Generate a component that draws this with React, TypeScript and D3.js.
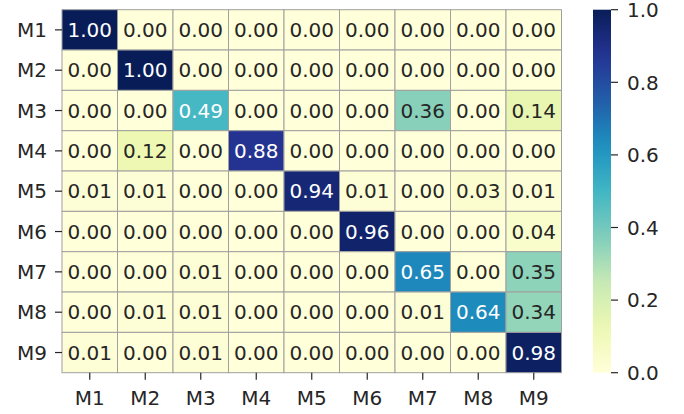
import React from "react";
import * as d3 from "d3";

const labels = ["M1", "M2", "M3", "M4", "M5", "M6", "M7", "M8", "M9"];
const row1 = [1.0, 0.0, 0.0, 0.0, 0.0, 0.0, 0.0, 0.0, 0.0];
const row2 = [0.0, 1.0, 0.0, 0.0, 0.0, 0.0, 0.0, 0.0, 0.0];
const row3 = [0.0, 0.0, 0.49, 0.0, 0.0, 0.0, 0.36, 0.0, 0.14];
const row4 = [0.0, 0.12, 0.0, 0.88, 0.0, 0.0, 0.0, 0.0, 0.0];
const row5 = [0.01, 0.01, 0.0, 0.0, 0.94, 0.01, 0.0, 0.03, 0.01];
const row6 = [0.0, 0.0, 0.0, 0.0, 0.0, 0.96, 0.0, 0.0, 0.04];
const row7 = [0.0, 0.0, 0.01, 0.0, 0.0, 0.0, 0.65, 0.0, 0.35];
const row8 = [0.0, 0.01, 0.01, 0.0, 0.0, 0.0, 0.01, 0.64, 0.34];
const row9 = [0.01, 0.0, 0.01, 0.0, 0.0, 0.0, 0.0, 0.0, 0.98];
const matrix = [row1, row2, row3, row4, row5, row6, row7, row8, row9];
const cbTicks = [0, 0.2, 0.4, 0.6, 0.8, 1.0];

const ylgnbu = ["#ffffd9", "#edf8b1", "#c7e9b4", "#7fcdbb", "#41b6c4", "#1d91c0", "#225ea8", "#253494", "#081d58"];

const W = 684, H = 414;
const left = 62, right = 561.5, top = 9.7, bottom = 372.7;
const cbLeft = 593, cbRight = 611;
const FONT = "DejaVu Sans, sans-serif";

function lum(c: string) {
  const rgb = d3.rgb(c);
  const f = (v: number) => {
    const s = v / 255;
    return s <= 0.03928 ? s / 12.92 : Math.pow((s + 0.055) / 1.055, 2.4);
  };
  return 0.2126 * f(rgb.r) + 0.7152 * f(rgb.g) + 0.0722 * f(rgb.b);
}

export default function App() {
  const color = d3
    .scaleLinear<string>()
    .domain(ylgnbu.map((_, i) => i / (ylgnbu.length - 1)))
    .range(ylgnbu)
    .interpolate(d3.interpolateRgb)
    .clamp(true);
  const x = d3.scaleBand<string>().domain(labels).range([left, right]);
  const y = d3.scaleBand<string>().domain(labels).range([top, bottom]);
  const cbY = d3.scaleLinear().domain([0, 1]).range([bottom, top]);
  const stops = d3.range(0, 1.0001, 0.05);

  return (
    <svg width={W} height={H} style={{ position: "absolute", left: 0, top: 0, background: "#fff" }} fontFamily={FONT}>
      <defs>
        <linearGradient id="cbg" x1="0" y1="1" x2="0" y2="0">
          {stops.map((s) => (
            <stop key={s} offset={s} stopColor={color(s)} />
          ))}
        </linearGradient>
      </defs>
      {matrix.map((row, i) =>
        row.map((v, j) => {
          const c = color(v);
          const tc = lum(c) > 0.408 ? "#262626" : "#ffffff";
          const cx = x(labels[j])!;
          const cy = y(labels[i])!;
          return (
            <g key={`${i}-${j}`}>
              <rect x={cx} y={cy} width={x.bandwidth()} height={y.bandwidth()} fill={c} stroke="#a0a0a0" strokeWidth={1} />
              <text
                x={cx + x.bandwidth() / 2}
                y={cy + y.bandwidth() / 2}
                dy="0.36em"
                textAnchor="middle"
                fontSize={20}
                fill={tc}
              >
                {v.toFixed(2)}
              </text>
            </g>
          );
        })
      )}
      {labels.map((l) => {
        const cy = y(l)! + y.bandwidth() / 2;
        return (
          <g key={"r" + l}>
            <line x1={left - 7} x2={left} y1={cy} y2={cy} stroke="#262626" strokeWidth={1.2} />
            <text x={left - 15} y={cy} dy="0.36em" textAnchor="end" fontSize={20} fill="#262626">
              {l}
            </text>
          </g>
        );
      })}
      {labels.map((l) => {
        const cx = x(l)! + x.bandwidth() / 2;
        return (
          <g key={"c" + l}>
            <line x1={cx} x2={cx} y1={bottom} y2={bottom + 7} stroke="#262626" strokeWidth={1.2} />
            <text x={cx} y={405} textAnchor="middle" fontSize={20} fill="#262626">
              {l}
            </text>
          </g>
        );
      })}
      <rect x={cbLeft} y={top} width={cbRight - cbLeft} height={bottom - top} fill="url(#cbg)" />
      {cbTicks.map((t) => (
        <g key={"t" + t}>
          <line x1={cbRight} x2={cbRight + 7} y1={cbY(t)} y2={cbY(t)} stroke="#262626" strokeWidth={1.2} />
          <text x={cbRight + 16} y={cbY(t)} dy="0.36em" fontSize={20} fill="#262626">
            {t.toFixed(1)}
          </text>
        </g>
      ))}
    </svg>
  );
}
